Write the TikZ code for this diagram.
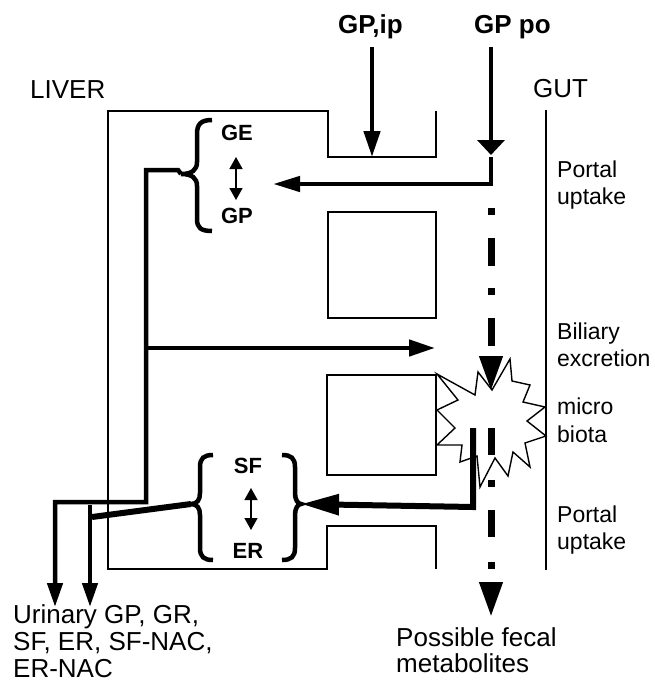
\documentclass[tikz,border=0pt]{standalone}
\usepackage{fontspec}
\setmainfont{Liberation Sans}
\usetikzlibrary{arrows.meta}
\begin{document}
\begin{tikzpicture}[x=1pt,y=-1pt,
  thinline/.style={line width=1.4pt},
  thickline/.style={line width=4.5pt},
  heavyline/.style={line width=6pt},
  dashdot/.style={line width=7pt},
  lbl/.style={anchor=base west,inner sep=0pt,font=\fontsize{23}{27}\selectfont},
  big/.style={anchor=base west,inner sep=0pt,font=\fontsize{26}{27}\selectfont},
  bigb/.style={anchor=base west,inner sep=0pt,font=\bfseries\fontsize{26}{27}\selectfont},
  cmp/.style={inner sep=0pt,font=\bfseries\fontsize{22}{24}\selectfont},
  tipA/.style={-{Triangle[length=26pt,width=16pt]}},
  tipB/.style={-{Triangle[length=24pt,width=15pt]}},
  tipD/.style={-{Triangle[length=35pt,width=22pt]}},
  twoway/.style={line width=1.5pt,{Triangle[length=12pt,width=13pt]}-{Triangle[length=12pt,width=13pt]}}
]
\useasboundingbox (0,0) rectangle (655,688);

% ---- texts
\node[bigb] (gpip) at (338,33) {GP,ip};
\node[bigb] (gppo) at (474,33) {GP po};
\node[big] (liver) at (30,98) {LIVER};
\node[big] (gut) at (533,97) {GUT};
\node[lbl] (pu1a) at (557,177) {Portal};
\node[lbl] (pu1b) at (557,204) {uptake};
\node[lbl] (bila) at (557,339) {Biliary};
\node[lbl] (bilb) at (557,366) {excretion};
\node[lbl] (mica) at (557,414) {micro};
\node[lbl] (micb) at (557,442) {biota};
\node[lbl] (pu2a) at (557,522) {Portal};
\node[lbl] (pu2b) at (557,549) {uptake};
\node[big] (ur1) at (13,623) {Urinary GP, GR,};
\node[big] (ur2) at (13,650) {SF, ER, SF-NAC,};
\node[big] (ur3) at (13,677) {ER-NAC};
\node[big] (fe1) at (396,646) {Possible fecal};
\node[big] (fe2) at (396,672) {metabolites};

\node[cmp] (ge) at (237,133) {GE};
\node[cmp] (gp) at (237,216) {GP};
\node[cmp] (sf) at (248,466) {SF};
\node[cmp] (er) at (248,551) {ER};

% ---- liver outline and gut wall
\draw[thinline] (436,111) -- (436,157) -- (328,157) -- (328,111) -- (108,111)
  -- (108,569) -- (327,569) -- (327,526) -- (436,526) -- (436,569);
\draw[thinline] (328,212) rectangle (436,318);
\draw[thinline] (327,375) rectangle (436,475);
\draw[thinline] (546,110) -- (546,570);

% ---- microbiota starburst
\draw[thinline,fill=white,line join=miter]
  (437,374) -- (475,395) -- (478,372) -- (492,390) -- (510,359) -- (512,381)
  -- (530,385) -- (523,402) -- (545,407) -- (527,421) -- (546,436) -- (525,443)
  -- (530,467) -- (513,452) -- (508,476) -- (495,458) -- (480,487) -- (477,456)
  -- (460,462) -- (462,445) -- (437,445) -- (455,428) -- (437,410) -- (458,400) -- cycle;

% ---- coordinates
\coordinate (ipTop) at (372,47);
\coordinate (ipEnd) at (372,157);
\coordinate (poTop) at (491,47);
\coordinate (poEnd) at (491,155);
\coordinate (poBend) at (491,184);
\coordinate (portalTip1) at (273,184);
\coordinate (gutTop) at (491,208);
\coordinate (gutMid) at (491,391);
\coordinate (gutLow) at (491,428);
\coordinate (gutEnd) at (491,617);
\coordinate (geTip) at (181,174);
\coordinate (sfTip) at (191,504);
\coordinate (sfTipR) at (301,504);
\coordinate (bileStart) at (146,348);
\coordinate (bileEnd) at (435,348);
\coordinate (ur1Top) at (55,502);
\coordinate (ur1End) at (55,607);
\coordinate (ur2Top) at (90,505);
\coordinate (ur2End) at (90,607);

% ---- inputs
\draw[thickline,tipA] (ipTop) -- (ipEnd);
\draw[thickline,-{Triangle[length=15pt,width=27pt]}] (poTop) -- (poEnd);
\draw[thickline,-{Triangle[length=27pt,width=15pt]}] (491,157) -- (poBend) -- (portalTip1);

% ---- gut lumen
\draw[dashdot,dash pattern=on 7pt off 23pt on 28pt off 22pt,tipD] (gutTop) -- (gutMid);
\draw[dashdot,dash pattern=on 27pt off 25pt on 7pt off 23pt,tipD] (gutLow) -- (gutEnd);

% ---- lower portal uptake
\draw[heavyline,-{Triangle[length=38pt,width=20pt]}] (473,428) -- (473,507) -- (sfTipR);

% ---- braces
\draw[thickline] (212,120) .. controls (201,120) and (197,124) .. (197,134) -- (197,162)
  .. controls (197,170) and (192,174) .. (geTip)
  .. controls (192,174) and (197,178) .. (197,186) -- (197,219)
  .. controls (197,228) and (201,231) .. (212,231);
\draw[thickline] (213,455) .. controls (204,455) and (200,458) .. (200,467) -- (200,493)
  .. controls (200,500) and (197,504) .. (sfTip)
  .. controls (197,504) and (200,508) .. (200,515) -- (200,548)
  .. controls (200,557) and (204,560) .. (213,560);
\draw[thickline] (282,455) .. controls (291,455) and (295,458) .. (295,467) -- (295,493)
  .. controls (295,500) and (298,504) .. (sfTipR)
  .. controls (298,504) and (295,508) .. (295,515) -- (295,548)
  .. controls (295,557) and (291,560) .. (282,560);

\draw[twoway] (236,157) -- (236,200);
\draw[twoway] (251,488) -- (251,530);

% ---- liver pathways
\draw[thickline,tipB] (geTip) -- (178,170) -- (146,170) -- (ur1Top -| bileStart) -- (ur1Top) -- (ur1End);
\draw[thickline,tipA] (bileStart) -- (bileEnd);
\draw[heavyline] (sfTip) -- (92,517);
\draw[thickline,tipB] (ur2Top) -- (ur2End);
\end{tikzpicture}
\end{document}
